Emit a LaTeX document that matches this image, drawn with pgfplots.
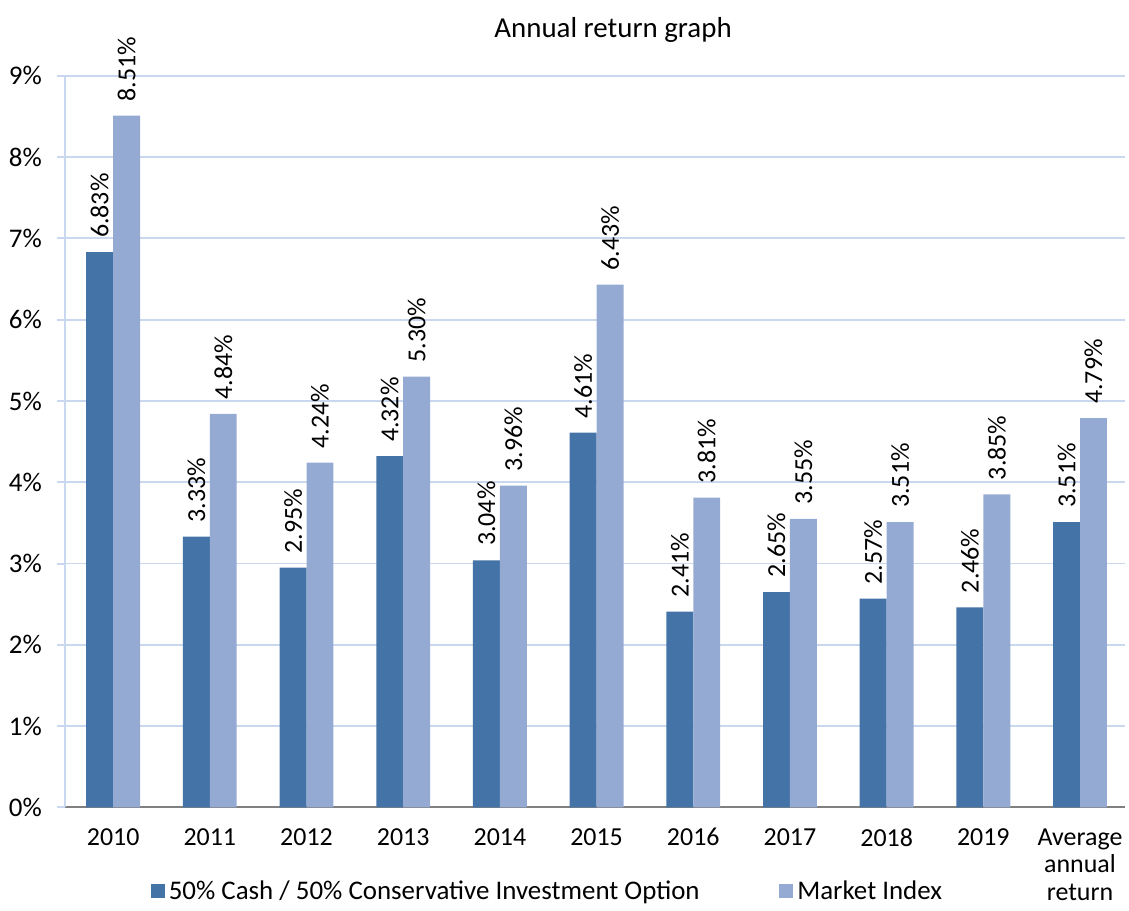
\documentclass[border=0pt]{standalone}
\usepackage{pgfplots}
\pgfplotsset{compat=1.18}
\usepackage{fontspec}
\setmainfont{Carlito}
\definecolor{darkb}{HTML}{4473A8}
\definecolor{lightb}{HTML}{95AAD2}
\definecolor{gridb}{HTML}{C9D8EF}
\begin{document}
\begin{tikzpicture}
\begin{axis}[
  name=ax,
  scale only axis,
  width=532pt, height=367pt,
  xmin=-0.5, xmax=10.47,
  ymin=0, ymax=9,
  ybar=0pt, bar width=13.5pt,
  font=\fontsize{12.5}{14}\selectfont,
  /pgf/number format/assume math mode=true,
  xtick={0,...,10},
  xticklabels={2010,2011,2012,2013,2014,2015,2016,2017,2018,2019,{Average\\annual\\return}},
  xticklabel style={align=center, anchor=north, yshift=-3pt, font=\fontsize{13}{14}\selectfont},
  x tick style={draw=none},
  extra x ticks={-0.5,0.5,1.5,2.5,3.5,4.5,5.5,6.5,7.5,8.5,9.5},
  extra x tick labels={},
  extra x tick style={xmajorgrids=false, major tick length=5pt, tick align=outside, tick style={draw=gray, line width=1pt}},
  ytick={0,...,9},
  yticklabel={\pgfmathprintnumber{\tick}\%},
  yticklabel style={xshift=-4pt, font=\fontsize{13.5}{14}\selectfont},
  y tick style={draw=gridb, line width=1pt},
  major tick length=4pt,
  tick align=outside,
  ymajorgrids,
  grid style={gridb, line width=0.9pt},
  axis x line*=bottom, axis y line*=left,
  x axis line style={-, draw=gray, line width=1pt},
  y axis line style={-, draw=gridb, line width=1pt},
  nodes near coords={\pgfmathprintnumber[fixed,fixed zerofill,precision=2]{\pgfplotspointmeta}\%},
  nodes near coords style={rotate=90, anchor=west, font=\fontsize{13}{14}\selectfont, inner sep=0pt, xshift=7pt},
  legend style={at={(0.456,0)}, anchor=center, yshift=-42pt, draw=none, fill=none,
    legend columns=2, /tikz/every even column/.append style={column sep=38pt},
    font=\fontsize{13.5}{15}\selectfont},
  legend image code/.code={\fill[#1] (0pt,-3.5pt) rectangle (7pt,3.5pt);},
]
\addplot[fill=darkb, draw=none] coordinates {(0,6.83) (1,3.33) (2,2.95) (3,4.32) (4,3.04) (5,4.61) (6,2.41) (7,2.65) (8,2.57) (9,2.46) (10,3.51)};
\addlegendentry{50\% Cash / 50\% Conservative Investment Option}
\addplot[fill=lightb, draw=none] coordinates {(0,8.51) (1,4.84) (2,4.24) (3,5.30) (4,3.96) (5,6.43) (6,3.81) (7,3.55) (8,3.51) (9,3.85) (10,4.79)};
\addlegendentry{Market Index}
\end{axis}
\node[font=\fontsize{14.5}{16}\selectfont] at ([xshift=9pt,yshift=23pt]ax.north) {Annual return graph};
\path ([xshift=-32.5pt,yshift=-49pt]ax.south west) rectangle ([yshift=38pt]ax.north east);
\end{tikzpicture}
\end{document}
